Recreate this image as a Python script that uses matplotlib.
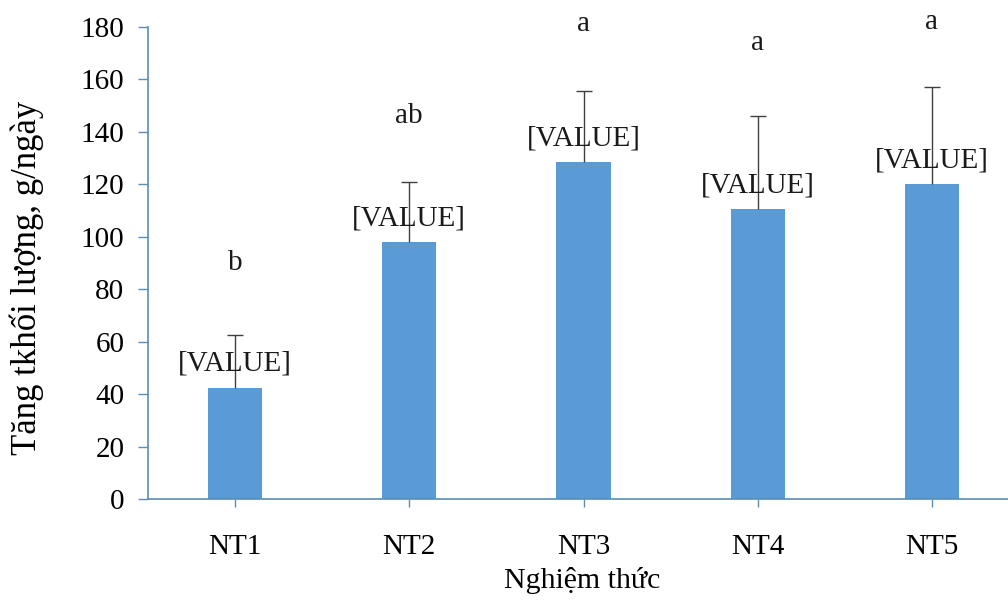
import matplotlib.pyplot as plt

plt.rcParams['font.family'] = ['Liberation Serif', 'DejaVu Serif']

treatments = ['NT1', 'NT2', 'NT3', 'NT4', 'NT5']
gain = [42.5, 98, 128.5, 110.5, 120]
sd = [20, 23, 27, 35.5, 37]
letters = ['b', 'ab', 'a', 'a', 'a']
letter_y = [90, 146, 181, 174, 182]

bar_color = '#5b9bd5'
axis_color = '#5b8db5'

fig = plt.figure(figsize=(10.08, 6.01), dpi=100)
ax = fig.add_axes([148 / 1008, 1 - 499 / 601, 871 / 1008, 472 / 601])

x = list(range(len(treatments)))
ax.bar(x, gain, width=0.31, color=bar_color, zorder=2)

# upper error bars only
tops = [g + s for g, s in zip(gain, sd)]
ax.vlines(x, gain, tops, color='#404040', linewidth=1, zorder=3)
ax.scatter(x, tops, marker='_', s=130, color='#404040', linewidths=1, zorder=3)

for xi, g in zip(x, gain):
    ax.annotate('[VALUE]', (xi, g), xytext=(0, 17), textcoords='offset points',
                ha='center', va='center', fontsize=21, color='#1a1a1a', zorder=4)

for xi, lab, ly in zip(x, letters, letter_y):
    ax.text(xi, ly, lab, ha='center', va='center', fontsize=21, color='#1a1a1a',
            clip_on=False)

ax.set_xlim(-0.5, 4.5)
ax.set_ylim(0, 180)
ax.set_yticks(range(0, 181, 20))
ax.set_xticks(x)
ax.set_xticklabels(treatments)

for side in ['top', 'right']:
    ax.spines[side].set_visible(False)
for side in ['left', 'bottom']:
    ax.spines[side].set_color(axis_color)
    ax.spines[side].set_linewidth(1.2)

ax.tick_params(axis='y', length=7, width=1, color=axis_color, labelsize=21, pad=10)
ax.tick_params(axis='x', length=6, width=1, color=axis_color, labelsize=21, pad=19)

ax.set_ylabel('Tăng tkhối lượng, g/ngày', fontsize=25)
ax.yaxis.set_label_coords(-0.119, 0.468)
ax.set_xlabel('Nghiệm thức', fontsize=21.5)
ax.xaxis.set_label_coords(0.498, -0.145)

plt.savefig('out.png', dpi=100)
